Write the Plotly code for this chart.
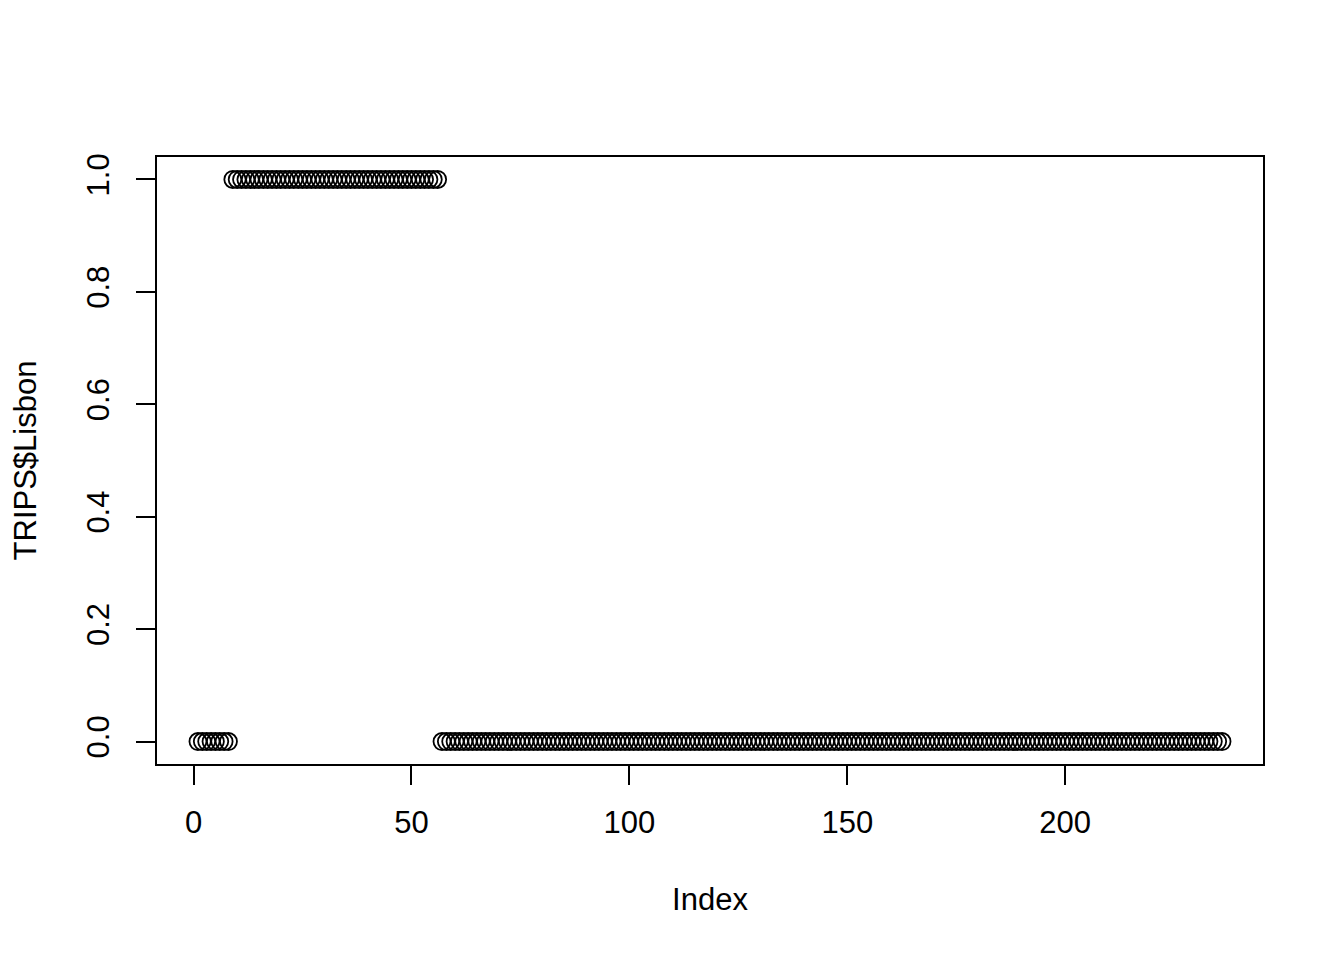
import plotly.graph_objects as go

# Data: TRIPS$Lisbon by index
segments_values = [0, 1, 0]
segments_lengths = [8, 48, 180]

values = []
for v, n in zip(segments_values, segments_lengths):
    values += [v] * n
index = list(range(1, len(values) + 1))

x_ticks = [0, 50, 100, 150, 200]
y_ticks = [0.0, 0.2, 0.4, 0.6, 0.8, 1.0]
y_tick_labels = ["0.0", "0.2", "0.4", "0.6", "0.8", "1.0"]

FONT = "Liberation Sans, Arial, sans-serif"

fig = go.Figure()
fig.add_trace(go.Scatter(
    x=index, y=values, mode="markers",
    marker=dict(symbol="circle-open", size=17, color="black",
                line=dict(width=1.8, color="black")),
    showlegend=False, hoverinfo="x+y",
))

n = len(values)
xpad = (n - 1) * 0.04
fig.update_layout(
    width=1344, height=960,
    margin=dict(l=149, r=89, t=149, b=204),
    paper_bgcolor="white", plot_bgcolor="white",
    font=dict(family=FONT, size=31, color="black"),
    xaxis=dict(
        range=[1 - xpad, n + xpad], tickvals=x_ticks,
        ticks="outside", ticklen=19, tickwidth=2, tickcolor="black",
        showline=True, linecolor="black", linewidth=2, mirror=True,
        showgrid=False, zeroline=False,
        ticklabelstandoff=11,
        title=dict(text="Index", standoff=49, font=dict(size=31)),
    ),
    yaxis=dict(
        range=[-0.04, 1.04], tickvals=y_ticks, ticktext=y_tick_labels,
        tickangle=-90,
        ticks="outside", ticklen=19, tickwidth=2, tickcolor="black",
        showline=True, linecolor="black", linewidth=2, mirror=True,
        showgrid=False, zeroline=False,
        ticklabelstandoff=15,
        title=dict(text="TRIPS$Lisbon", standoff=40, font=dict(size=31)),
    ),
)

fig.write_html("out.html")
